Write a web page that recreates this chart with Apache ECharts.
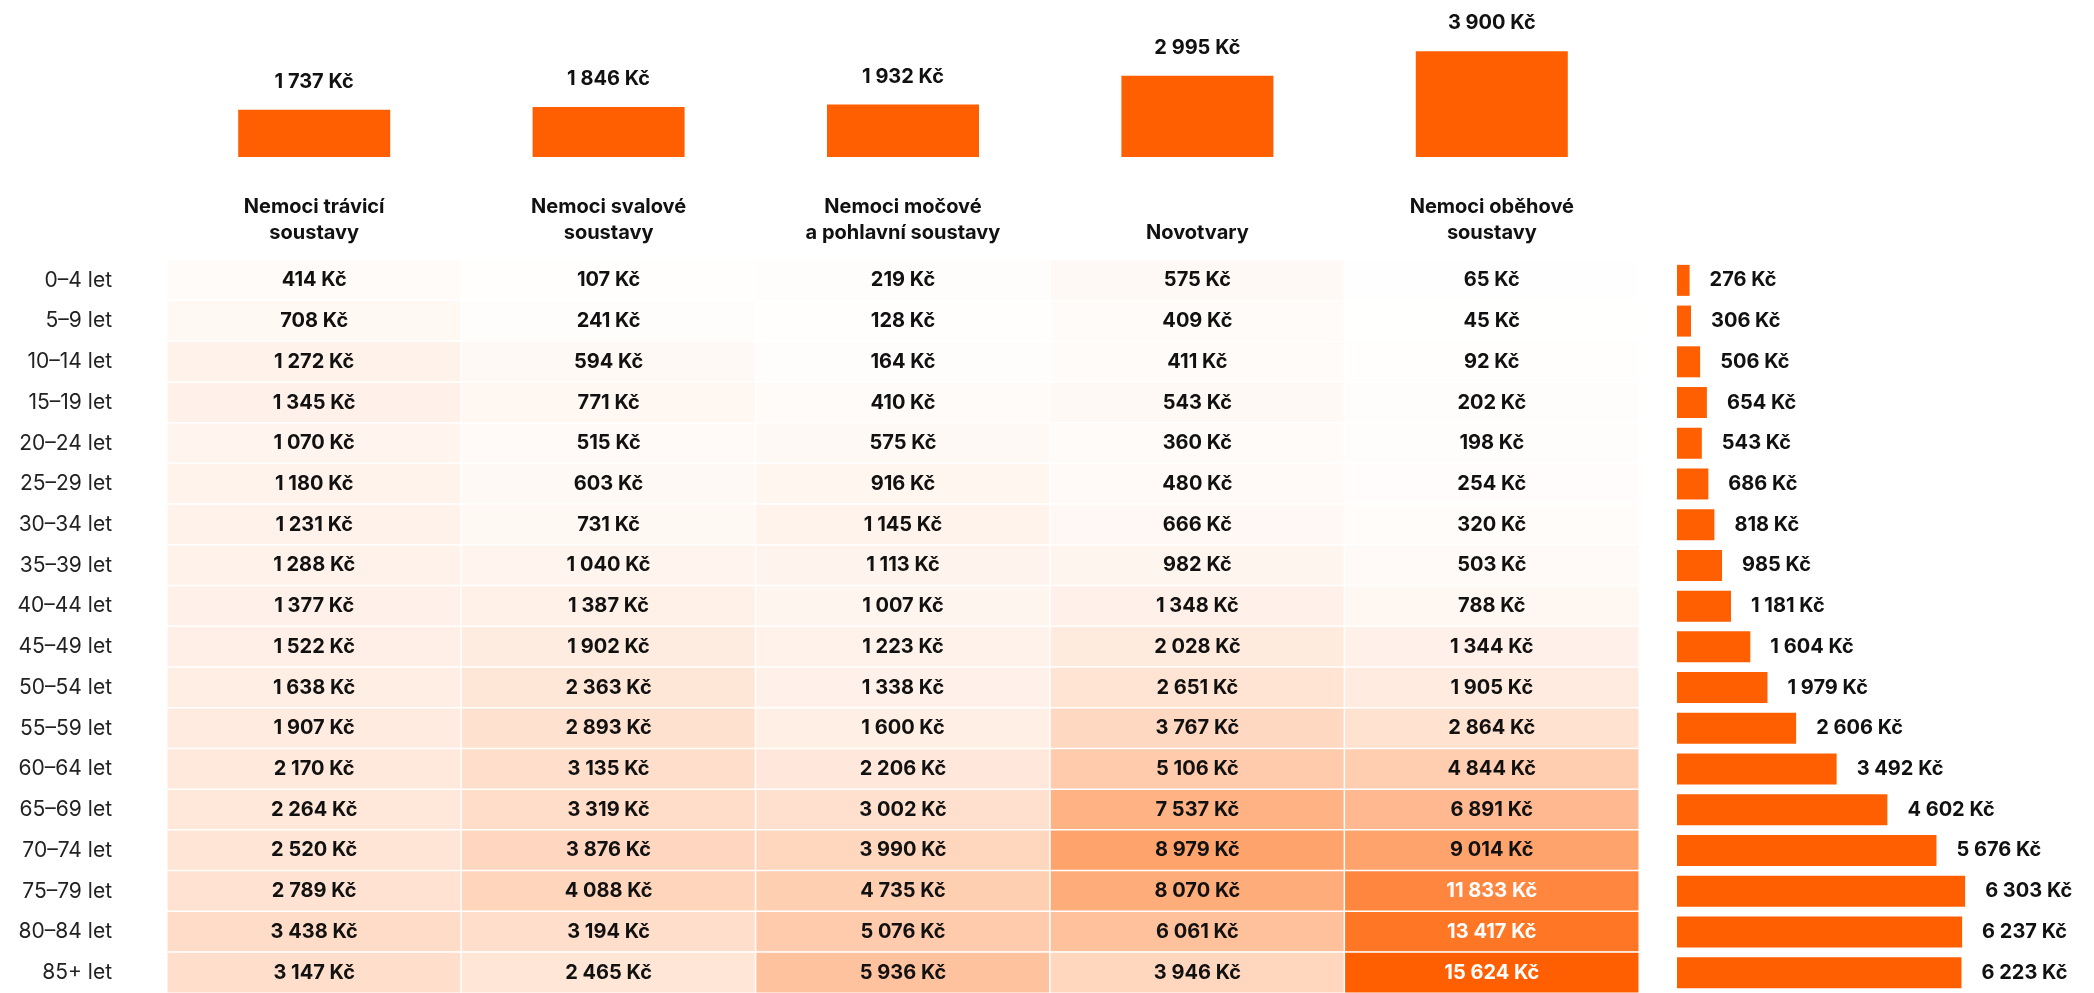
<!DOCTYPE html>
<html>
<head>
<meta charset="utf-8">
<script src="https://cdn.jsdelivr.net/npm/echarts@6/dist/echarts.min.js"></script>
<style>
  html, body { margin: 0; padding: 0; background: #fff; }
  #main { width: 2094px; height: 993px; }
</style>
</head>
<body>
<div id="main"></div>
<script>
// skupiny diagnóz
const categories = ['Nemoci trávicí\nsoustavy', 'Nemoci svalové\nsoustavy', 'Nemoci močové\na pohlavní soustavy', 'Novotvary', 'Nemoci oběhové\nsoustavy'];
const avgCost = [1737, 1846, 1932, 2995, 3900];

// věkové skupiny
const ages = ['0–4 let', '5–9 let', '10–14 let', '15–19 let', '20–24 let', '25–29 let', '30–34 let', '35–39 let', '40–44 let',
  '45–49 let', '50–54 let', '55–59 let', '60–64 let', '65–69 let', '70–74 let', '75–79 let', '80–84 let', '85+ let'];

const travici = [414, 708, 1272, 1345, 1070, 1180, 1231, 1288, 1377, 1522, 1638, 1907, 2170, 2264, 2520, 2789, 3438, 3147];
const svalove = [107, 241, 594, 771, 515, 603, 731, 1040, 1387, 1902, 2363, 2893, 3135, 3319, 3876, 4088, 3194, 2465];
const mocove = [219, 128, 164, 410, 575, 916, 1145, 1113, 1007, 1223, 1338, 1600, 2206, 3002, 3990, 4735, 5076, 5936];
const novotvary = [575, 409, 411, 543, 360, 480, 666, 982, 1348, 2028, 2651, 3767, 5106, 7537, 8979, 8070, 6061, 3946];
const obehove = [65, 45, 92, 202, 198, 254, 320, 503, 788, 1344, 1905, 2864, 4844, 6891, 9014, 11833, 13417, 15624];
const totals = [276, 306, 506, 654, 543, 686, 818, 985, 1181, 1604, 1979, 2606, 3492, 4602, 5676, 6303, 6237, 6223];

const ORANGE = '#ff5f00';
const FONT = 'Inter';
const BOLD_SIZE = 20;

function kc(v) {
  return String(v).replace(/\B(?=(\d{3})+(?!\d))/g, '\u00a0') + '\u00a0Kč';
}

const columns = [travici, svalove, mocove, novotvary, obehove];
let heat = [];
columns.forEach((col, x) => {
  col.forEach((v, y) => {
    heat.push({
      value: [x, y, v],
      label: { color: v > 10000 ? '#fff' : '#111' }
    });
  });
});

let myChart = echarts.init(document.getElementById('main'));
let option = {
  backgroundColor: '#fff',
  animation: false,
  textStyle: { fontFamily: FONT },
  grid: [
    // horní sloupce
    { left: 167, width: 1472, top: 40, height: 117 },
    // heatmapa
    { left: 167, width: 1472, top: 260, height: 738 },
    // vodorovné sloupce vpravo
    { left: 1677, width: 320, top: 260, height: 738 }
  ],
  xAxis: [
    { type: 'category', gridIndex: 0, data: categories, show: false },
    {
      type: 'category', gridIndex: 1, data: categories, position: 'top',
      axisLine: { show: false }, axisTick: { show: false }, splitLine: { show: false },
      axisLabel: {
        interval: 0, margin: 14, color: '#111', fontSize: BOLD_SIZE, fontWeight: 'bold',
        fontFamily: FONT, lineHeight: 26
      }
    },
    { type: 'value', gridIndex: 2, min: 0, max: 7000, show: false }
  ],
  yAxis: [
    { type: 'value', gridIndex: 0, min: 0, max: 4310, show: false },
    {
      type: 'category', gridIndex: 1, data: ages, inverse: true,
      axisLine: { show: false }, axisTick: { show: false }, splitLine: { show: false },
      axisLabel: { margin: 55, color: '#222', fontSize: 21, fontFamily: FONT }
    },
    { type: 'category', gridIndex: 2, data: ages, inverse: true, show: false }
  ],
  visualMap: {
    show: false, seriesIndex: 1, dimension: 2, min: 0, max: 15624,
    inRange: { color: ['#ffffff', ORANGE] }
  },
  series: [
    {
      type: 'bar', xAxisIndex: 0, yAxisIndex: 0, data: avgCost, barWidth: 152,
      itemStyle: { color: ORANGE },
      label: {
        show: true, position: 'top', distance: 18, color: '#111', fontSize: BOLD_SIZE,
        fontWeight: 'bold', fontFamily: FONT, formatter: p => kc(p.value)
      }
    },
    {
      type: 'heatmap', xAxisIndex: 1, yAxisIndex: 1, data: heat,
      itemStyle: { borderColor: '#fff', borderWidth: 1.5 },
      label: {
        show: true, fontSize: BOLD_SIZE, fontWeight: 'bold', fontFamily: FONT,
        formatter: p => kc(p.value[2])
      },
      emphasis: { disabled: true }
    },
    {
      type: 'bar', xAxisIndex: 2, yAxisIndex: 2, data: totals, barWidth: 31,
      itemStyle: { color: ORANGE },
      label: {
        show: true, position: 'right', distance: 20, color: '#111', fontSize: BOLD_SIZE,
        fontWeight: 'bold', fontFamily: FONT, formatter: p => kc(p.value)
      }
    }
  ]
};
myChart.setOption(option);
</script>
</body>
</html>
